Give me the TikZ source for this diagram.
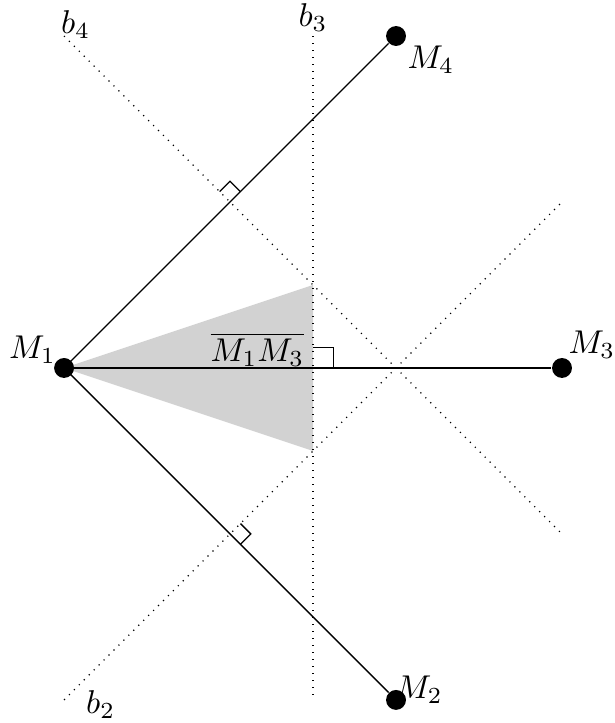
\documentclass[tikz,border=0pt]{standalone}
\usetikzlibrary{calc}
\begin{document}
\begin{tikzpicture}[x=2cm,y=2cm,
  pt/.style={circle,fill=black,inner sep=0pt,minimum size=2.4mm},
  bis/.style={dotted},
  seg/.style={line width=0.45pt},
  rightmark/.style={line width=0.45pt},
  lbl/.style={inner sep=0pt,scale=1.13}]
\useasboundingbox (-0.386,-2.139) rectangle (3.319,2.217);
% shaded region
\fill[gray!35] (0,0) -- (1.5,0.5) -- (1.5,-0.5) -- cycle;
% bisector endpoints
\coordinate (b4s) at (0,2);
\coordinate (b4e) at (3,-1);
\coordinate (b3s) at (1.5,2);
\coordinate (b3e) at (1.5,-2);
\coordinate (b2s) at (0,-2);
\coordinate (b2e) at (3,1);
\draw[bis] (b4s) -- (b4e);
\draw[bis] (b3s) -- (b3e);
\draw[bis] (b2s) -- (b2e);
% points
\node[pt] (M1) at (0,0) {};
\node[pt] (M2) at (2,-2) {};
\node[pt] (M3) at (3,0) {};
\node[pt] (M4) at (2,2) {};
\draw[seg] (M1.center) -- (M4);
\draw[seg] (M1.center) -- (M2);
\draw[seg] (M1.center) -- (M3);
% right angle marks
\draw[rightmark] (1.5,0.125) -- (1.625,0.125) -- (1.625,0);
\draw[rightmark] (1.0625,1.0625) -- (1,1.125) -- (0.9375,1.0625);
\draw[rightmark] (1.0625,-0.9375) -- (1.125,-1) -- (1.0625,-1.0625);
% labels
\node[lbl] (lM1) at (-0.19,0.11) {$M_1$};
\node[lbl] (lM3) at (3.18,0.14) {$M_3$};
\node[lbl] (lM4) at (2.21,1.855) {$M_4$};
\node[lbl] (lM2) at (2.14,-1.94) {$M_2$};
\node[lbl] (lb4) at (0.07,2.07) {$b_4$};
\node[lbl] (lb3) at (1.5,2.11) {$b_3$};
\node[lbl] (lb2) at (0.22,-2.03) {$b_2$};
\node[lbl] (lM13) at (1.165,0.11) {$\overline{M_1M_3}$};
\end{tikzpicture}
\end{document}
